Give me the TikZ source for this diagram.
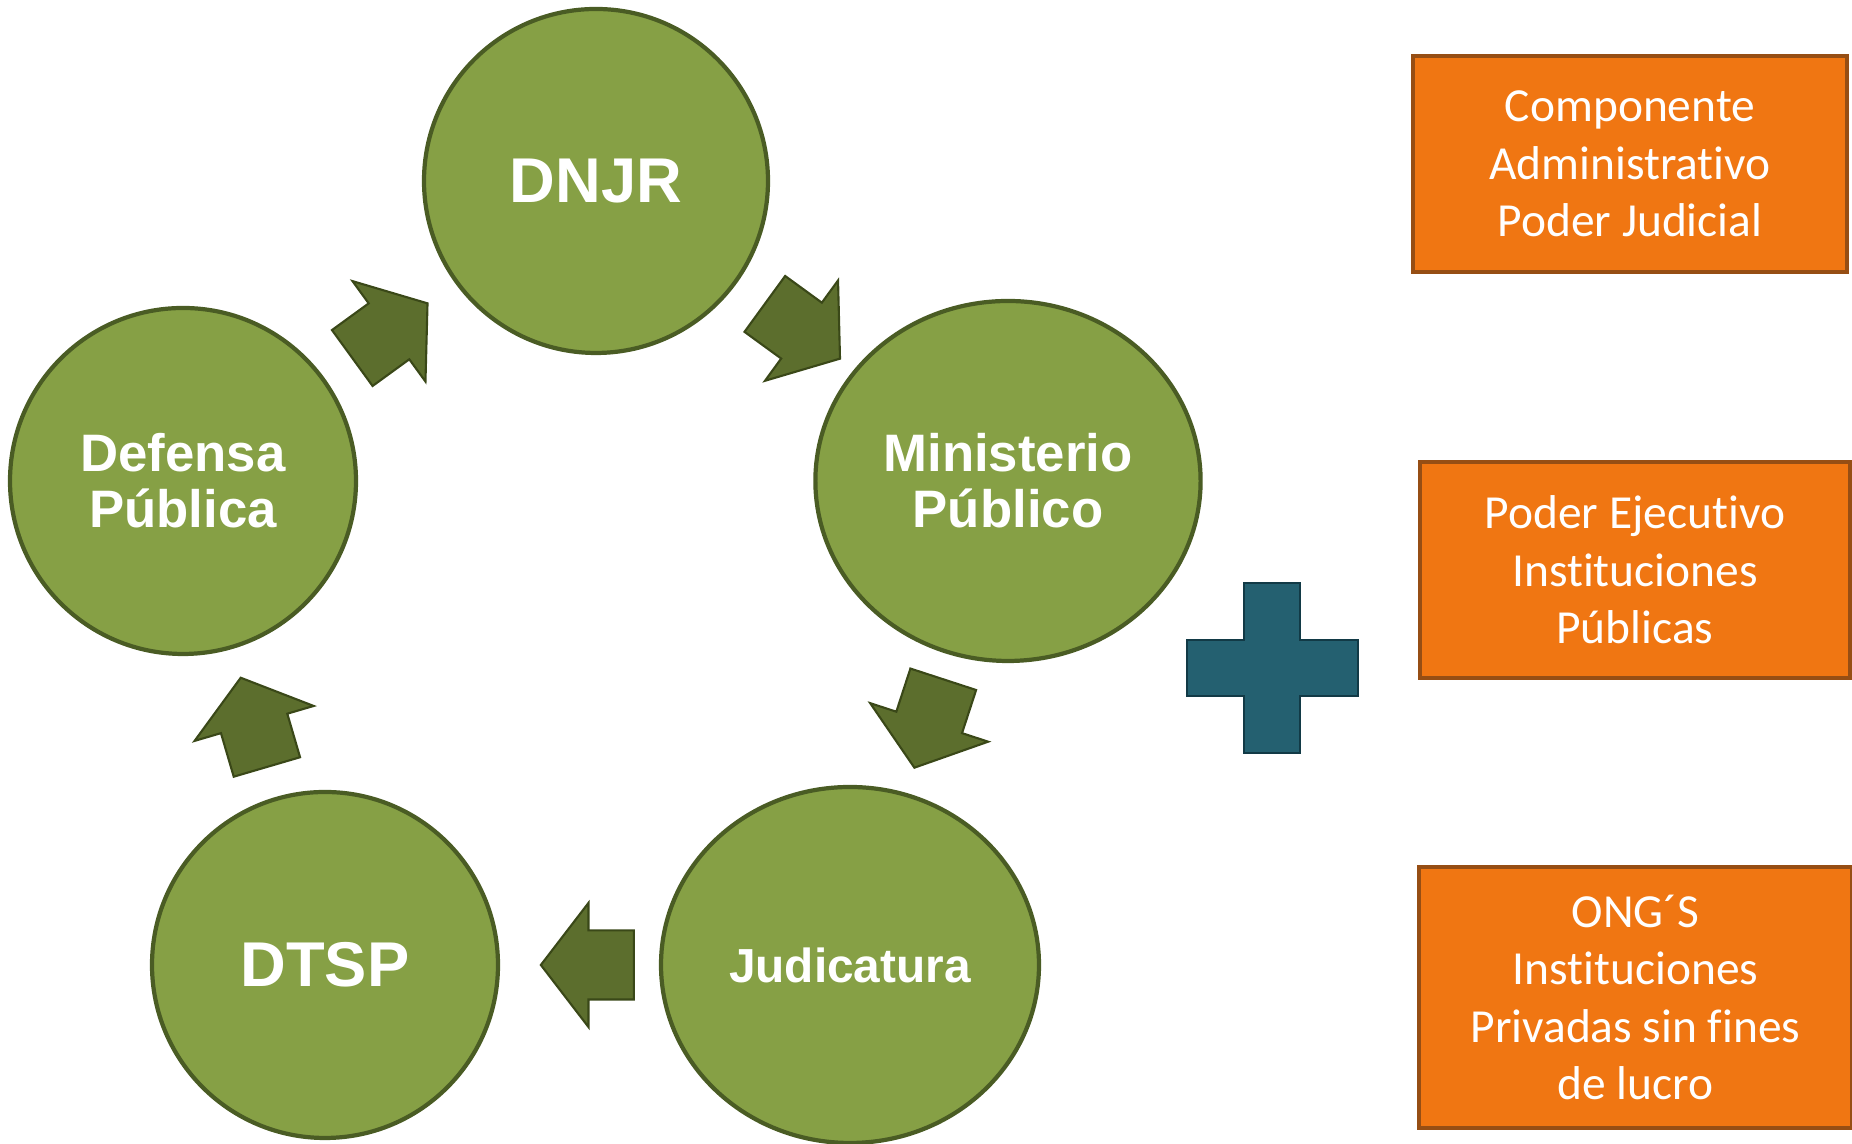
\documentclass[tikz,border=0pt]{standalone}
\usepackage{fontspec}
\setmainfont{Liberation Sans}
\newfontfamily\cajafont[RawFeature={-liga;-calt;-dlig;-clig}]{Carlito}
\usetikzlibrary{shapes.geometric,shapes.arrows,calc}
\definecolor{verdecirc}{RGB}{134,160,69}
\definecolor{bordecirc}{RGB}{74,92,36}
\definecolor{verdeflecha}{RGB}{92,110,45}
\definecolor{bordeflecha}{RGB}{58,72,24}
\definecolor{naranja}{RGB}{240,118,18}
\definecolor{bordenaranja}{RGB}{150,78,20}
\definecolor{azulmas}{RGB}{36,96,112}
\definecolor{bordemas}{RGB}{18,58,70}
\begin{document}
\begin{tikzpicture}[
    circulo/.style = {ellipse, fill=verdecirc, draw=bordecirc, line width=1.2pt,
      text=white, align=center, font=\bfseries\fontsize{15}{16}\selectfont},
    grande/.style = {font=\bfseries\fontsize{18}{20}\selectfont},
    caja/.style = {rectangle, fill=naranja, draw=bordenaranja, line width=1pt,
      text=white, align=center, font=\cajafont\fontsize{13.5}{16.3}\selectfont},
    flecha/.style = {single arrow, fill=verdeflecha, draw=bordeflecha, line width=0.6pt,
      inner sep=0pt, text height=0.335cm, text depth=0.335cm, minimum height=0.93cm,
      single arrow head extend=0.275cm, single arrow tip angle=105}]
  \useasboundingbox (0,0) rectangle (18.52,11.44);
  % ciclo de instituciones
  \node[circulo, grande, minimum width=3.44cm, minimum height=3.44cm] (dnjr) at (5.96,9.63) {DNJR};
  \node[circulo, minimum width=3.78cm, minimum height=3.60cm] (mp) at (10.08,6.63) {Ministerio\\P\'ublico};
  \node[circulo, minimum width=3.78cm, minimum height=3.56cm,
    font=\bfseries\fontsize{13.6}{15}\selectfont] (jud) at (8.50,1.79) {Judicatura};
  \node[circulo, grande, minimum width=3.46cm, minimum height=3.46cm] (dtsp) at (3.25,1.79) {DTSP};
  \node[circulo, minimum width=3.46cm, minimum height=3.46cm] (def) at (1.83,6.63) {Defensa\\P\'ublica};
  % flechas entre circulos
  \foreach \a/\b in {dnjr/mp, mp/jud, jud/dtsp, dtsp/def, def/dnjr}
    \path let \p1 = ($(\b)-(\a)$), \n1 = {atan2(\y1,\x1)} in
      node[flecha, rotate=\n1] (\a-\b) at ($(\a)!0.475!(\b)$) {};
  % signo mas
  \coordinate (mas) at (12.72,4.76);
  \filldraw[fill=azulmas, draw=bordemas, line width=0.8pt, shift={(mas)}]
    (-0.28,-0.85) -- (0.28,-0.85) -- (0.28,-0.28) -- (0.86,-0.28) -- (0.86,0.28)
    -- (0.28,0.28) -- (0.28,0.85) -- (-0.28,0.85) -- (-0.28,0.28) -- (-0.85,0.28)
    -- (-0.85,-0.28) -- (-0.28,-0.28) -- cycle;
  % componentes
  \node[caja, minimum width=4.34cm, minimum height=2.16cm] (admin) at (16.30,9.80)
    {Componente\\Administrativo\\Poder Judicial};
  \node[caja, minimum width=4.30cm, minimum height=2.16cm] (ejec) at (16.35,5.74)
    {Poder Ejecutivo\\Instituciones\\P\'ublicas};
  \node[caja, minimum width=4.33cm, minimum height=2.61cm] (ong) at (16.355,1.465)
    {ONG\textasciiacute S\\Instituciones\\Privadas sin fines\\de lucro};
\end{tikzpicture}
\end{document}
